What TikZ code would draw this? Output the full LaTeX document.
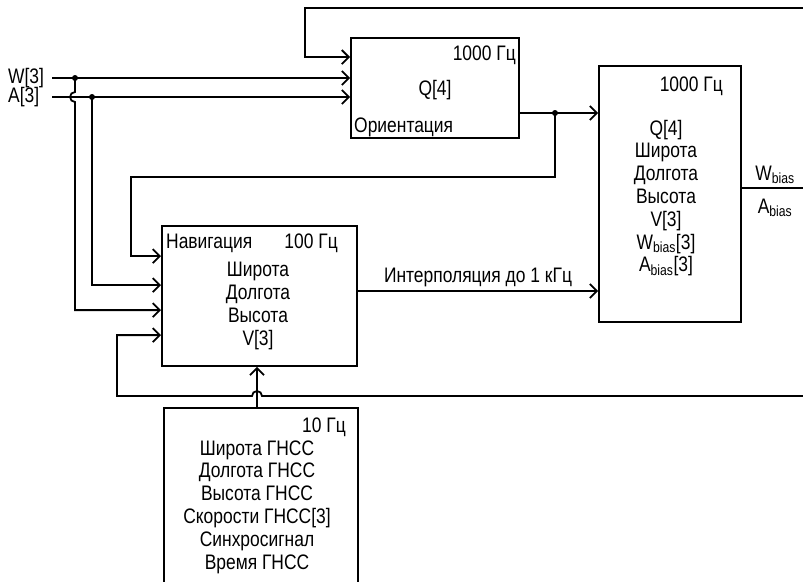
\documentclass[tikz,border=0pt]{standalone}
\usepackage{fontspec}
\setmainfont[FakeStretch=0.83]{Liberation Sans}
\usetikzlibrary{arrows.meta,positioning,calc}

\begin{document}
\begin{tikzpicture}[x=1pt, y=-1pt,
        blk/.style={draw, line width=1.8pt, inner sep=0pt},
        txt/.style={inner sep=0pt, align=center,
                    font=\fontsize{21}{22.8}\selectfont},
        wire/.style={line width=1.8pt},
        arr/.style={wire, -{Straight Barb[length=7pt, width=14pt]}}]
        \clip (0,0) rectangle (803,581);
        \node[blk, minimum width=168, minimum height=100] (ori)  at (435,88)    {};
        \node[blk, minimum width=142, minimum height=256] (res)  at (670,194)   {};
        \node[blk, minimum width=195, minimum height=140] (nav)  at (259.5,296) {};
        \node[blk, minimum width=194, minimum height=200] (gnss) at (261,508)   {};

        \node[txt, anchor=east] (orihz)   at (516,55)  {1000 Гц};
        \node[txt]              (oriq)    at (435,90)  {Q[4]};
        \node[txt, anchor=west] (oriname) at (354,127) {Ориентация};

        \node[txt, anchor=east] (reshz)   at (723,86)  {1000 Гц};
        \node[txt]              (reslist) at (666,198)
            {Q[4]\\Широта\\Долгота\\Высота\\V[3]\\W\textsubscript{bias}[3]\\A\textsubscript{bias}[3]};

        \node[txt, anchor=west] (navname) at (166,243) {Навигация};
        \node[txt, anchor=east] (navhz)   at (338,243) {100 Гц};
        \node[txt]              (navlist) at (258,306) {Широта\\Долгота\\Высота\\V[3]};

        \node[txt, anchor=east] (gnsshz)   at (346,427) {10 Гц};
        \node[txt]              (gnsslist) at (257,507)
            {Широта ГНСС\\Долгота ГНСС\\Высота ГНСС\\Скорости ГНСС[3]\\Синхросигнал\\Время ГНСС};

        \node[txt, anchor=west, text width=38, align=left] (wlbl) at (8,78) {W[3]};
        \node[txt, anchor=west, text width=38, align=left] (albl) at (8,97) {A[3]};
        \node[txt] (wbias) at (775,175) {W\textsubscript{bias}};
        \node[txt] (abias) at (775,208) {A\textsubscript{bias}};

        \coordinate (wdot)   at (75,78);
        \coordinate (adot)   at (92,97);
        \coordinate (qdot)   at (555,113);
        \coordinate (qbend)  at (131,177);
        \coordinate (fbtopL) at (305,8);
        \coordinate (fbtopR) at (810,8);
        \coordinate (fbbotL) at (117,396);
        \coordinate (fbbotR) at (810,396);
        \coordinate (hopc)   at (257,396);
        \coordinate (biasR)  at (810,188);
        \coordinate (oriin1) at ($(ori.north west)+(0,20)$);
        \coordinate (navin1) at ($(nav.north west)+(0,31)$);
        \coordinate (navin2) at ($(nav.north west)+(0,60)$);
        \coordinate (navin3) at ($(nav.north west)+(0,85)$);
        \coordinate (navin4) at ($(nav.north west)+(0,110)$);

        % inputs
        \draw[wire] ([xshift=6pt]wlbl.east) -- (wdot);
        \draw[wire] ([xshift=6pt]albl.east) -- (adot);
        \draw[arr] (wdot) -- (wdot -| ori.west);
        \draw[arr] (adot) -- (adot -| ori.west);
        \draw[arr] (wdot) -- ($(wdot |- adot)+(0,-5)$)
            arc[start angle=90, end angle=270, radius=5pt] |- (navin3);
        \draw[arr] (adot) |- (navin2);
        \fill (wdot) circle (3pt);
        \fill (adot) circle (3pt);

        % feedback and links
        \draw[arr] (fbtopR) -- (fbtopL) |- (oriin1);
        \draw[wire] (ori.east |- qdot) -- (qdot);
        \draw[arr] (qdot) -- (qdot -| res.west);
        \draw[arr] (qdot) |- (qbend) |- (navin1);
        \fill (qdot) circle (3pt);
        \draw[arr] (fbbotR) -- ($(hopc)+(5,0)$)
            arc[start angle=0, end angle=180, radius=5pt] -- (fbbotL) |- (navin4);
        \draw[arr] (gnss.north -| hopc) -- (nav.south -| hopc);
        \draw[arr] ([yshift=5pt]nav.east) -- ([yshift=5pt]nav.east -| res.west)
            node[txt, midway, above=3pt] (interp) {Интерполяция до 1 кГц};
        \draw[wire] (res.east |- biasR) -- (biasR);
    \end{tikzpicture}
\end{document}
